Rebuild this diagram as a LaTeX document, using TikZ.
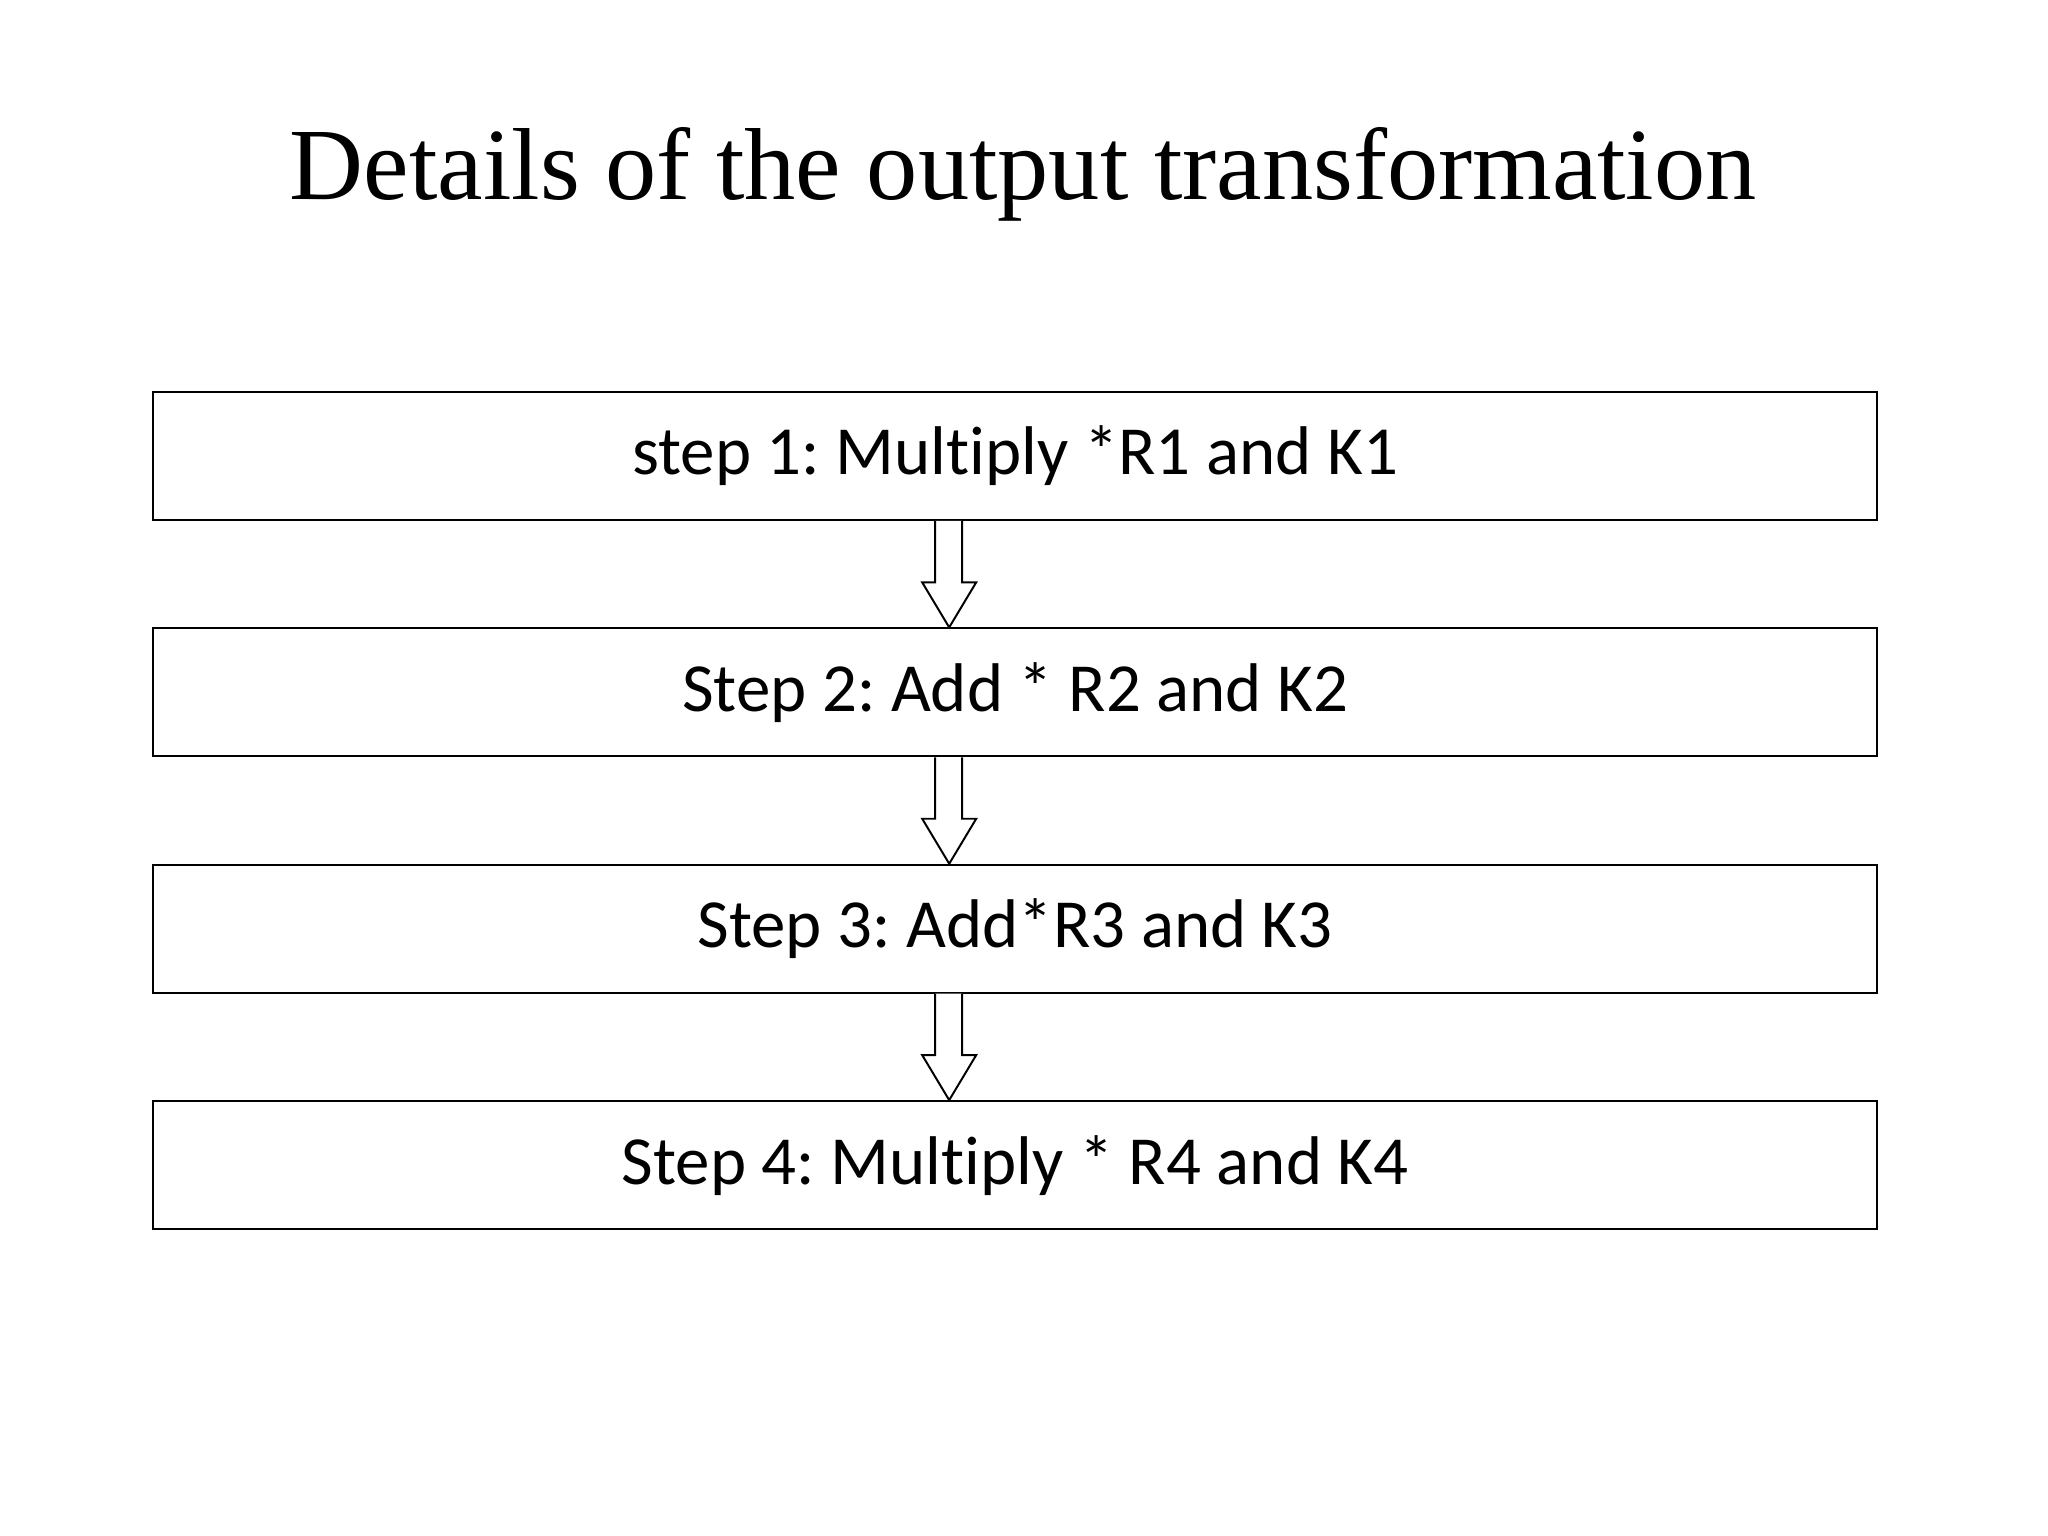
\documentclass[tikz,border=0pt]{standalone}
\usepackage{fontspec}
\setmainfont{Liberation Serif}
\newfontfamily\boxfont[Ligatures=NoCommon]{Carlito}
\usetikzlibrary{positioning,calc}
\frenchspacing
\begin{document}
\begin{tikzpicture}[stepbox/.style={draw,line width=0.7pt,minimum width=21.55cm,minimum height=1.6cm,inner sep=0pt,font=\boxfont\fontsize{24.5}{28}\selectfont},
  blockarrow/.style={draw,line width=0.7pt,fill=white,line join=miter}]
\fill[white](0,0) rectangle (25.6,19.2);
\useasboundingbox (0,0) rectangle (25.6,19.2);
\node[font=\fontsize{36.4}{40}\selectfont,anchor=base](title) at (12.79,16.71){Details of the output transformation};
\node[stepbox](s1) at (12.69,13.5){step 1: Multiply *R1 and K1};
\node[stepbox,below=1.33cm of s1](s2){Step 2: Add * R2 and K2};
\node[stepbox,below=1.33cm of s2](s3){Step 3: Add*R3 and K3};
\node[stepbox,below=1.33cm of s3](s4){Step 4: Multiply * R4 and K4};
\foreach \a/\b in {s1/s2,s2/s3,s3/s4}
  \draw[blockarrow]($(\a.south)+(-1,0)$)--($(\b.north)+(-1,.5625)$)--($(\b.north)+(-1.1625,.5625)$)
    --($(\b.north)+(-.825,0)$)--($(\b.north)+(-.4875,.5625)$)--($(\b.north)+(-.6625,.5625)$)--($(\a.south)+(-.6625,0)$);
\end{tikzpicture}
\end{document}
